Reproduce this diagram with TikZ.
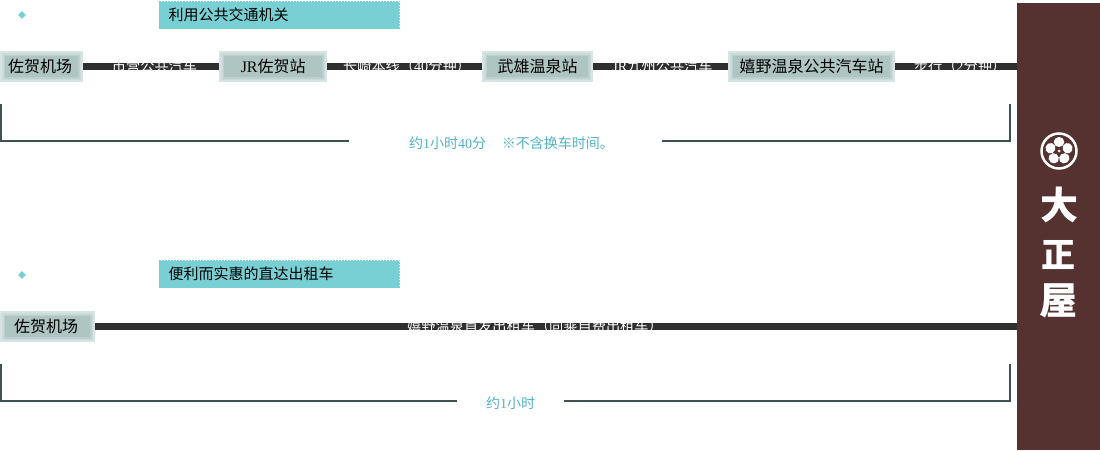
\documentclass[tikz,border=0pt]{standalone}
\usepackage{fontspec}
\setmainfont{Liberation Serif}
\newfontfamily\cjk{Noto Sans CJK SC}
\newfontfamily\logofont{Noto Sans CJK JP}
\usetikzlibrary{shapes.geometric}
\definecolor{headcol}{HTML}{78D0D4}
\definecolor{barcol}{HTML}{2F2F2F}
\definecolor{panelcol}{HTML}{553230}
\definecolor{bracketcol}{HTML}{3F5152}
\definecolor{notecol}{HTML}{4FB2C8}
\definecolor{stationcol}{HTML}{AEC5C2}
\definecolor{stationa}{HTML}{D6E5E4}
\definecolor{stationb}{HTML}{CADBD9}
\definecolor{stationc}{HTML}{BCD0CE}
\newcommand{\lat}[1]{{\rmfamily #1}}
\tikzset{
    x=1pt, y=-1pt,
    headbox/.style={anchor=north west, fill=headcol, draw=white, dotted, line width=1pt,
        minimum height=28pt, text width=221pt, inner xsep=10pt, inner ysep=0pt, align=left,
        font=\cjk\fontsize{15}{15}\selectfont},
    marker/.style={diamond, fill=headcol, inner sep=0pt, minimum size=8pt},
    stationbox/.style={anchor=west, inner sep=0pt, minimum height=31pt, minimum width=#1,
        fill=stationa, font=\cjk\fontsize{16}{16}\selectfont,
        path picture={
            \foreach \d/\c in {2/stationb, 3.5/stationc, 5/stationcol}
                \fill[\c] ([xshift=\d pt, yshift=\d pt]path picture bounding box.south west)
                    rectangle ([xshift=-\d pt, yshift=-\d pt]path picture bounding box.north east);
        }},
    railbar/.style={draw=barcol, line width=7pt},
    barlabel/.style={text=white, inner sep=0pt, font=\cjk\fontsize{14.2}{14.2}\selectfont},
    bracket/.style={draw=bracketcol, line width=2pt},
    note/.style={text=notecol, inner sep=0pt, font=\cjk\fontsize{14}{14}\selectfont},
}
\begin{document}
\begin{tikzpicture}
    \useasboundingbox (0,0) rectangle (1100,450);

    % Side panel with crest and name
    \node[anchor=north west, fill=panelcol, inner sep=0pt, minimum width=83pt, minimum height=447pt] (panel) at (1017,3) {};
    \coordinate (crest) at (1059,151);
    \draw[white, line width=2.5pt] (crest) circle (17.5);
    \foreach \a in {90,162,234,306,18}
        \fill[white, rotate around={\a:(crest)}] ([xshift=9pt]crest) ellipse (5 and 5.3);
    \fill[panelcol] (crest) circle (3.2);
    \fill[white] (crest) circle (1.5);
    \node[text=white, inner sep=0pt, font=\logofont\bfseries\fontsize{38}{38}\selectfont] (logoa) at (1059,205) {大};
    \node[text=white, inner sep=0pt, font=\logofont\bfseries\fontsize{34}{34}\selectfont] (logob) at (1058,255) {正};
    \node[text=white, inner sep=0pt, font=\logofont\bfseries\fontsize{38}{38}\selectfont] (logoc) at (1058,300.5) {屋};

    % Public transport route
    \node[marker] (marka) at (22,15) {};
    \node[headbox] (heada) at (158,0.5) {利用公共交通机关};
    \node[stationbox=83pt] (airporta) at (0,66.5) {佐贺机场\kern3pt};
    \node[stationbox=108pt] (saga) at (219,66.5) {\lat{JR}佐贺站};
    \node[stationbox=111pt] (takeo) at (482,66.5) {武雄温泉站};
    \node[stationbox=167pt] (ureshino) at (728,66.5) {嬉野温泉公共汽车站};
    \coordinate (enda) at (airporta.east -| panel.west);
    \foreach \p/\q in {airporta/saga, saga/takeo, takeo/ureshino}
        \draw[railbar] (\p.east) -- (\q.west);
    \draw[railbar] (ureshino.east) -- (enda);

    % Bar labels only show inside the bar
    \begin{scope}
        \clip ([yshift=3.5pt]airporta.east) rectangle ([yshift=-3.5pt]enda);
        \node[barlabel] (busa) at (154.5,66) {市营公共汽车};
        \node[barlabel] (line) at (407,66) {长崎本线（\lat{40}分钟）};
        \node[barlabel] (busb) at (662.5,66) {\lat{JR}九州公共汽车};
        \node[barlabel] (walk) at (960,66) {步行（\lat{2}分钟）};
    \end{scope}

    % Time bracket
    \node[note, minimum width=313pt] (notea) at (505.5,141) {};
    \node[note] (notetexta) at (511.5,143) {约\lat{1}小时\lat{40}分\hspace{16pt}※不含换车时间。};
    \coordinate (lefta) at (1,104);
    \coordinate (righta) at (1010,104);
    \draw[bracket] (lefta) |- (notea.west);
    \draw[bracket] (righta) |- (notea.east);

    % Taxi route
    \node[marker] (markb) at (22,275) {};
    \node[headbox] (headb) at (158,259.5) {便利而实惠的直达出租车};
    \node[stationbox=95pt] (airportb) at (0,326.5) {佐贺机场\kern3pt};
    \coordinate (endb) at (airportb.east -| panel.west);
    \draw[railbar] (airportb.east) -- (endb);
    \begin{scope}
        \clip ([yshift=3.5pt]airportb.east) rectangle ([yshift=-3.5pt]endb);
        \node[barlabel] (taxi) at (535,326) {嬉野温泉首发出租车（同乘自费出租车）};
    \end{scope}

    % Time bracket
    \node[note, minimum width=107pt] (noteb) at (510.5,401) {};
    \node[note] (notetextb) at (510.5,403) {约\lat{1}小时};
    \coordinate (leftb) at (1,364);
    \coordinate (rightb) at (1010,364);
    \draw[bracket] (leftb) |- (noteb.west);
    \draw[bracket] (rightb) |- (noteb.east);

\end{tikzpicture}
\end{document}
